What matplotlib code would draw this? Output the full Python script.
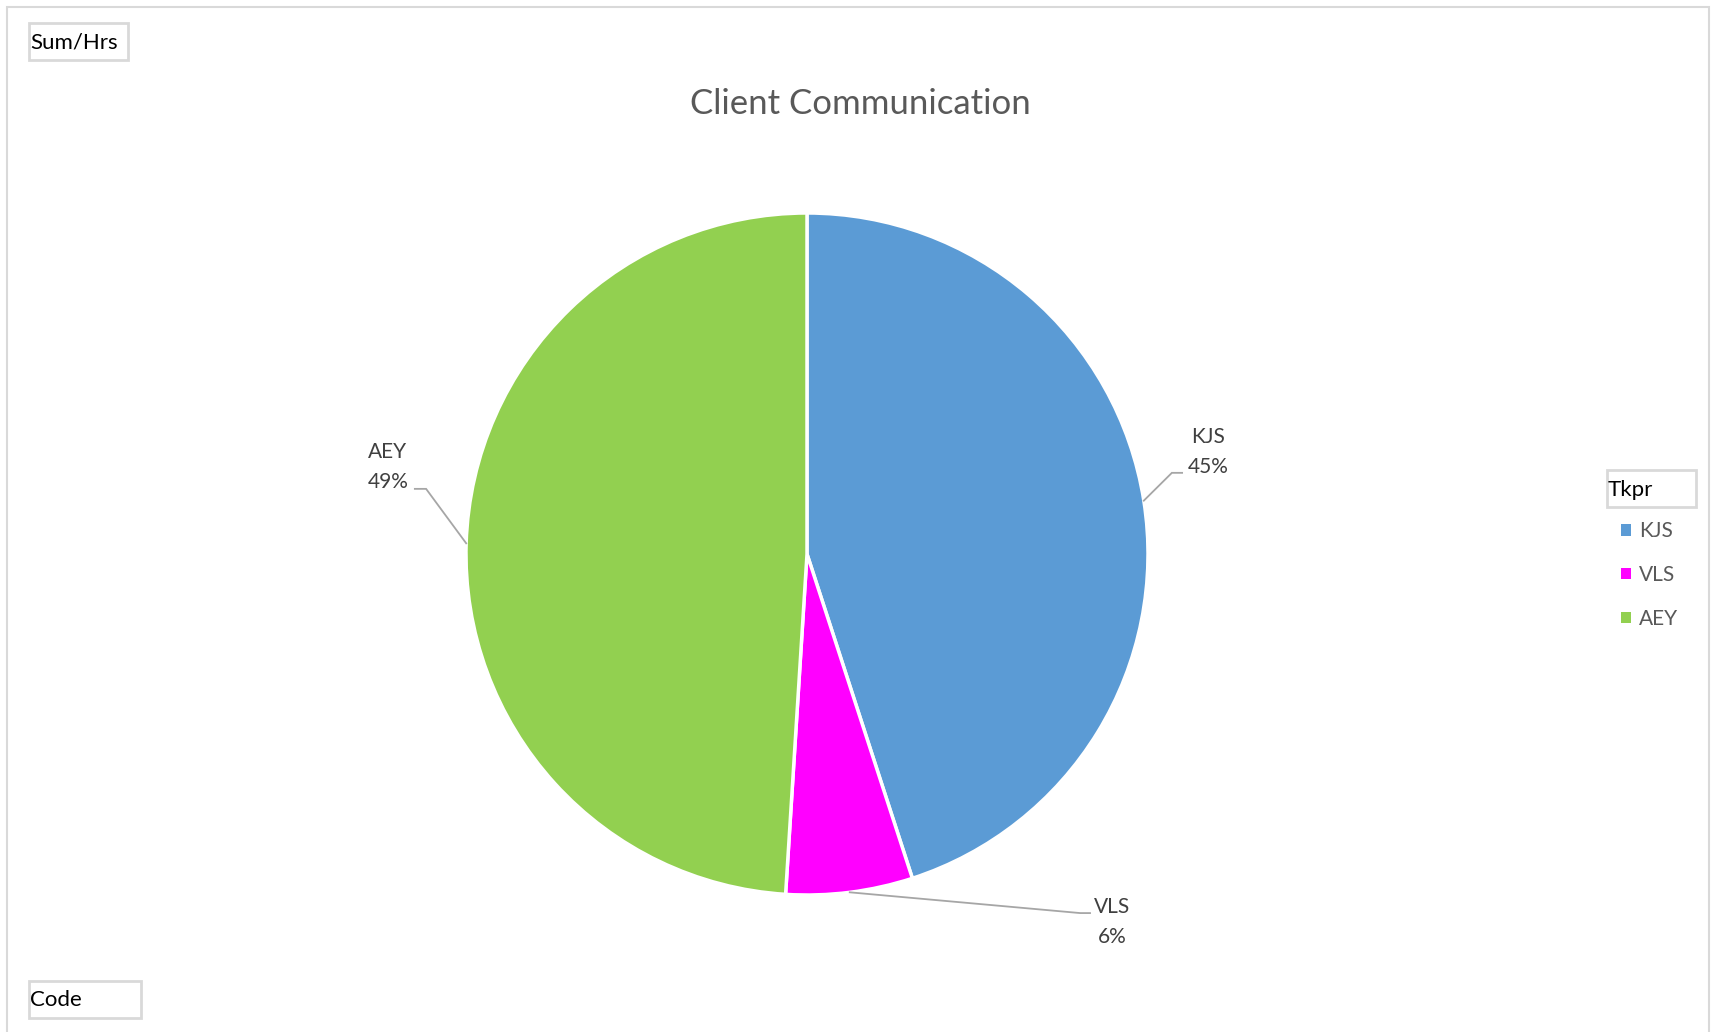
import matplotlib.pyplot as plt
import numpy as np
from matplotlib.patches import Rectangle, Patch

plt.rcParams['font.family'] = ['Lato', 'DejaVu Sans']

# hours per timekeeper
tkpr = ['KJS', 'VLS', 'AEY']
hours = [22.5, 3.0, 24.5]
colors = ['#5B9BD5', '#FF00FF', '#92D050']

W, H = 1714, 1032
fig = plt.figure(figsize=(W / 100, H / 100), dpi=100)


def fx(x):
    return x / W


def fy(y):
    return 1 - y / H


# chart area border
fig.patches.append(Rectangle((fx(7), fy(1040)), fx(1709) - fx(7), fy(7) - fy(1040),
                             transform=fig.transFigure, fill=False,
                             edgecolor='#D9D9D9', linewidth=1.5))

# pie axes, centre (807, 554), radius 341 px
cx, cy, r = 807, 554, 341
ax = fig.add_axes([fx(cx - r), fy(cy + r), 2 * r / W, 2 * r / H])
wedges, _ = ax.pie(hours, colors=colors, startangle=90, counterclock=False,
                   wedgeprops=dict(edgecolor='white', linewidth=2.5))
ax.set_xlim(-1, 1)
ax.set_ylim(-1, 1)

total = sum(hours)
# label text position and leader elbow (in pie radius units)
label_pos = {'KJS': (1.176, 0.299), 'VLS': (0.894, -1.079), 'AEY': (-1.229, 0.255)}
leader_start = {'KJS': (1.100, 0.238), 'VLS': (0.830, -1.053), 'AEY': (-1.150, 0.191)}
leader_elbow = {'KJS': (1.070, 0.238), 'VLS': (0.801, -1.053), 'AEY': (-1.117, 0.191)}

for w, name, h in zip(wedges, tkpr, hours):
    mid = np.deg2rad((w.theta1 + w.theta2) / 2)
    ex, ey = np.cos(mid), np.sin(mid)
    sx, sy = leader_start[name]
    bx, by = leader_elbow[name]
    ax.plot([sx, bx, ex], [sy, by, ey], color='#A6A6A6', linewidth=1.3,
            clip_on=False, solid_joinstyle='miter')
    tx, ty = label_pos[name]
    ax.text(tx, ty, f'{name}\n{h / total * 100:.0f}%', ha='center', va='center',
            fontsize=15, color='#404040', linespacing=1.6)

fig.text(fx(860), fy(104), 'Client Communication', ha='center', va='center',
         fontsize=25, color='#595959')


def field_button(x0, y0, x1, y1, label):
    fig.patches.append(Rectangle((fx(x0), fy(y1)), fx(x1) - fx(x0), fy(y0) - fy(y1),
                                 transform=fig.transFigure, facecolor='white',
                                 edgecolor='#D9D9D9', linewidth=2))
    fig.text(fx(x0 + 1), fy((y0 + y1) / 2 + 1), label, ha='left', va='center',
             fontsize=16, color='black')


field_button(29, 23, 128, 60, 'Sum/Hrs')
field_button(29, 981, 141, 1018, 'Code')
field_button(1607, 470, 1696, 507, 'Tkpr')

handles = [Patch(facecolor=c, edgecolor='none') for c in colors]
fig.legend(handles, tkpr, loc='upper left', bbox_to_anchor=(fx(1613), fy(513)),
           frameon=False, fontsize=15, labelcolor='#595959',
           handlelength=0.45, handleheight=0.45, handletextpad=0.4,
           labelspacing=1.15, borderaxespad=0)

fig.savefig('out.png', dpi=100, facecolor='white')
